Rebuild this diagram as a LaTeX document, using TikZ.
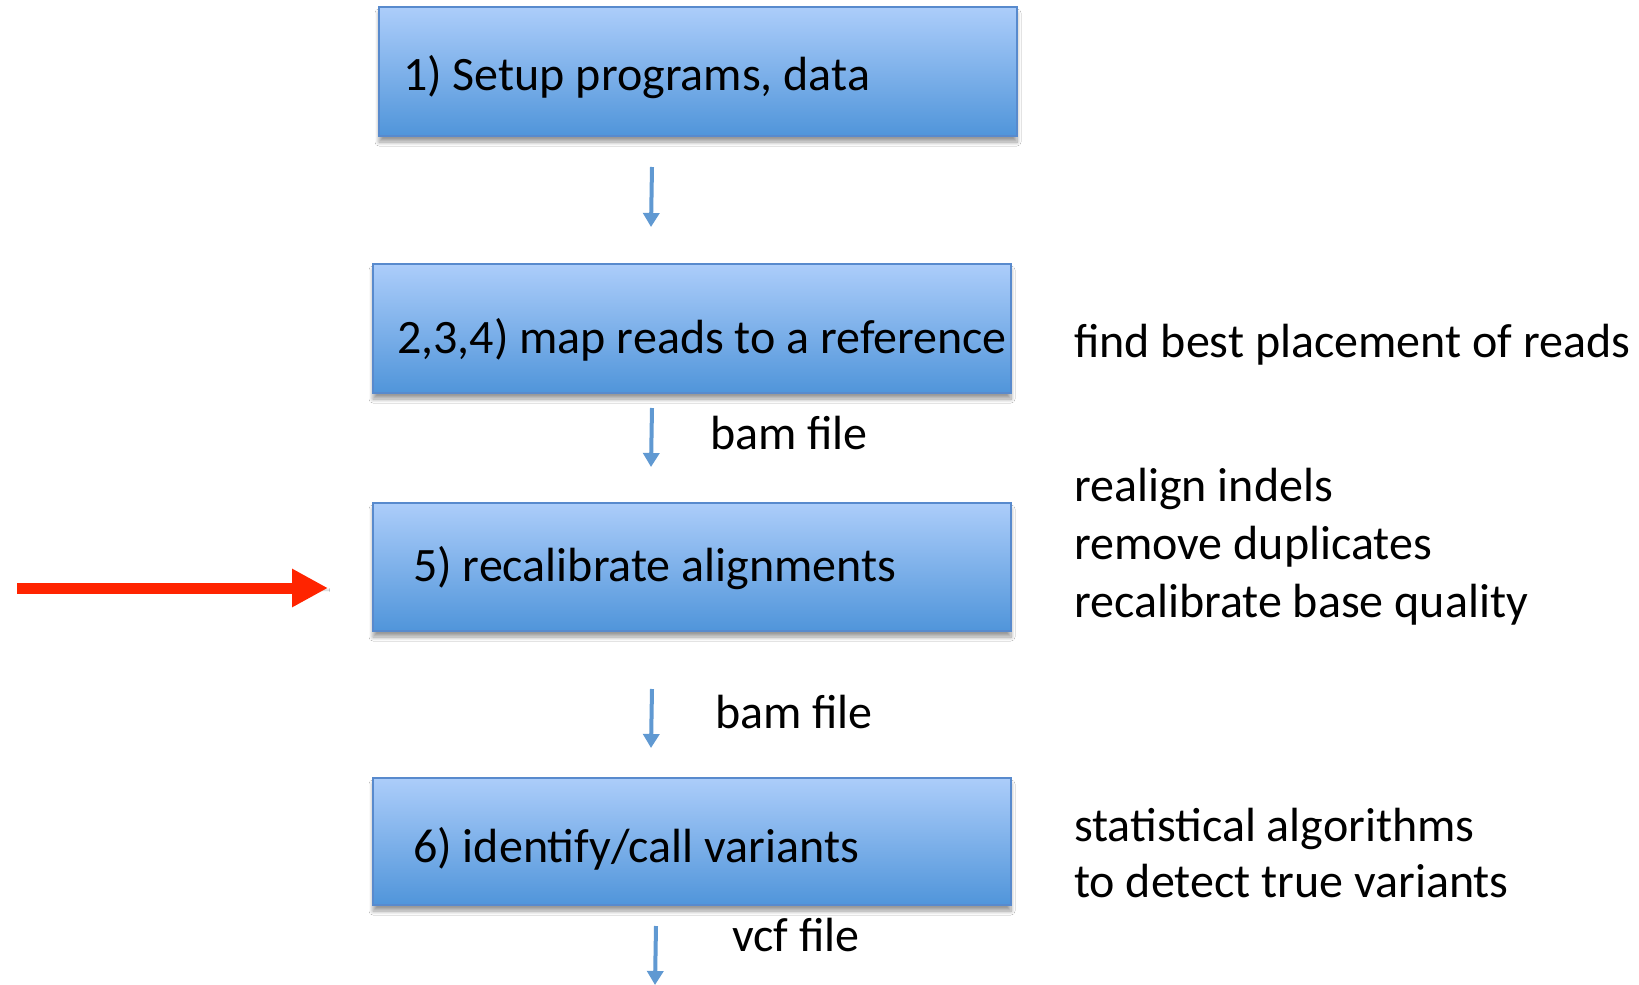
\documentclass[tikz,border=0pt]{standalone}
\usepackage{fontspec}
\setmainfont{Carlito}
\usetikzlibrary{arrows.meta,shadows.blur}
\definecolor{boxtop}{RGB}{172,205,250}
\definecolor{boxbot}{RGB}{80,149,218}
\definecolor{boxedge}{RGB}{88,138,205}
\definecolor{flowblue}{RGB}{96,153,210}
\definecolor{alertred}{RGB}{255,36,0}
\begin{document}
\begin{tikzpicture}[x=1pt,y=-1pt,
  stepbox/.style={draw=boxedge,line width=1.2pt,top color=boxtop,bottom color=boxbot,
    blur shadow={shadow xshift=0pt,shadow yshift=-6pt,shadow blur steps=8,shadow blur radius=4pt,shadow opacity=40}},
  lbl/.style={anchor=base west,inner sep=0pt,font=\fontsize{48}{58}\selectfont},
  flow/.style={draw=flowblue,line width=4pt,-{Triangle[width=16pt,length=14pt]}},
  alert/.style={draw=alertred,line width=11pt,-{Triangle[width=36pt,length=36pt]},
    blur shadow={shadow xshift=1pt,shadow yshift=-2pt,shadow opacity=25}}]
\useasboundingbox (0,0) rectangle (1639,985);
\fill[white] (0,0) rectangle (1639,985);

% process boxes
\path[stepbox] (379,7) rectangle (1017,136);
\path[stepbox] (373,264) rectangle (1011,393);
\path[stepbox] (373,503) rectangle (1011,631);
\path[stepbox] (373,778) rectangle (1011,905);

% box captions
\node[lbl] (t1) at (403,90) {1) Setup programs, data};
\node[lbl] (t2) at (397,353) {2,3,4) map reads to a reference};
\node[lbl] (t3) at (413,581) {5) recalibrate alignments};
\node[lbl] (t4) at (413,862) {6) identify/call variants};

% notes on the right
\node[lbl] (n1) at (1074,357) {find best placement of reads};
\node[lbl] (n2) at (1074,501) {realign indels};
\node[lbl] (n3) at (1074,559) {remove duplicates};
\node[lbl] (n4) at (1074,617) {recalibrate base quality};
\node[lbl] (n5) at (1074,841) {statistical algorithms};
\node[lbl] (n6) at (1074,897) {to detect true variants};

% file labels
\node[lbl] (f1) at (710,449) {bam file};
\node[lbl] (f2) at (715,728) {bam file};
\node[lbl] (f3) at (732,951) {vcf file};

% flow arrows
\coordinate (a1s) at (652,167); \coordinate (a1e) at (651,227);
\coordinate (a2s) at (652,408); \coordinate (a2e) at (651,467);
\coordinate (a3s) at (652,689); \coordinate (a3e) at (651,748);
\coordinate (a4s) at (656,926); \coordinate (a4e) at (655,985);
\draw[flow] (a1s) -- (a1e);
\draw[flow] (a2s) -- (a2e);
\draw[flow] (a3s) -- (a3e);
\draw[flow] (a4s) -- (a4e);

% pointer to the current step
\coordinate (ps) at (17,588); \coordinate (pe) at (328,588);
\draw[alert] (ps) -- (pe);
\end{tikzpicture}
\end{document}
